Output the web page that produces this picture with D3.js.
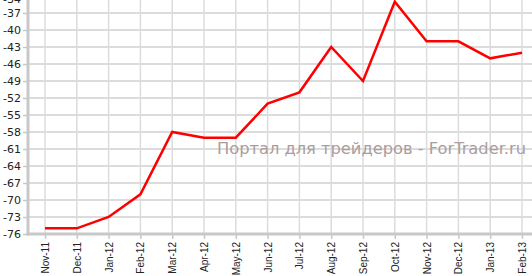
<!DOCTYPE html>
<html>
<head>
<meta charset="utf-8">
<script src="https://cdn.jsdelivr.net/npm/d3@7"></script>
<style>
  body { margin: 0; background: #fff; }
  .y.axis text { font-family: "DejaVu Sans", Verdana, sans-serif; font-size: 11px; fill: #222; }
  .x.axis text { font-family: "Liberation Sans", Arial, sans-serif; font-size: 10px; fill: #222; }
</style>
</head>
<body>
<svg class="chart"></svg>
<script>
var months = ["Nov-11", "Dec-11", "Jan-12", "Feb-12", "Mar-12", "Apr-12", "May-12", "Jun-12",
  "Jul-12", "Aug-12", "Sep-12", "Oct-12", "Nov-12", "Dec-12", "Jan-13", "Feb-13"];
var values = [-75, -75, -73, -69, -58, -59, -59, -53, -51, -43, -49, -35, -42, -42, -45, -44];
var yTicks = [-76, -73, -70, -67, -64, -61, -58, -55, -52, -49, -46, -43, -40, -37, -34];
var watermark = "Портал для трейдеров - ForTrader.ru";

(function () {
  var W = 532, H = 276;
  var svg = d3.select('.chart').attr('width', W).attr('height', H);

  // plot area, top is cut off like the original
  var left = 28, right = 522, top = -4, bottom = 234;

  var x = d3.scalePoint().domain(months).range([45, right]);
  var y = d3.scaleLinear().domain([-76, -34]).range([bottom, top]);

  // grid
  svg.append('g').selectAll('line')
    .data(yTicks)
    .enter().append('line')
    .attr('x1', left).attr('x2', W)
    .attr('y1', function (d) { return y(d); })
    .attr('y2', function (d) { return y(d); })
    .attr('stroke', '#d0d0d0').attr('stroke-width', 1.5);

  svg.append('g').selectAll('line')
    .data(months)
    .enter().append('line')
    .attr('x1', function (d) { return x(d); })
    .attr('x2', function (d) { return x(d); })
    .attr('y1', 0).attr('y2', bottom)
    .attr('stroke', '#dcdcdc').attr('stroke-width', 1.5);

  // watermark
  svg.append('text')
    .attr('x', 217).attr('y', 154)
    .attr('textLength', 309).attr('lengthAdjust', 'spacingAndGlyphs')
    .style('font-family', '"DejaVu Sans", Verdana, sans-serif')
    .style('font-size', '16px')
    .style('fill', '#ab9d9d')
    .text(watermark);

  // axes
  var yAxis = d3.axisLeft(y).tickValues(yTicks).tickSize(5).tickPadding(2)
    .tickFormat(function (d) { return String(d); });
  var gy = svg.append('g').attr('class', 'y axis')
    .attr('transform', 'translate(' + left + ',0)')
    .call(yAxis);
  gy.select('.domain').remove();
  gy.selectAll('.tick line').attr('stroke', '#c8c8c8').attr('stroke-width', 1.5);
  // top label sits below its clipped tick
  gy.selectAll('.tick text').filter(function (d) { return d === -34; }).attr('y', 3);

  var xAxis = d3.axisBottom(x).tickSize(5);
  var gx = svg.append('g').attr('class', 'x axis')
    .attr('transform', 'translate(0,' + bottom + ')')
    .call(xAxis);
  gx.select('.domain').remove();
  gx.selectAll('.tick line').attr('stroke', '#c8c8c8').attr('stroke-width', 1.5);
  gx.selectAll('.tick text')
    .attr('transform', 'rotate(-90)')
    .attr('text-anchor', 'end')
    .attr('x', -8).attr('y', 0).attr('dy', '0.35em');

  svg.append('line')
    .attr('x1', left).attr('x2', left).attr('y1', 0).attr('y2', bottom + 1.5)
    .attr('stroke', '#c8c8c8').attr('stroke-width', 3);
  svg.append('line')
    .attr('x1', left - 1.5).attr('x2', W).attr('y1', bottom).attr('y2', bottom)
    .attr('stroke', '#c8c8c8').attr('stroke-width', 3);

  // series
  var line = d3.line()
    .x(function (d, i) { return x(months[i]); })
    .y(function (d) { return y(d); });

  svg.append('path')
    .datum(values)
    .attr('d', line)
    .attr('fill', 'none')
    .attr('stroke', '#ff0000')
    .attr('stroke-width', 2.5)
    .attr('stroke-linejoin', 'miter');
})();
</script>
</body>
</html>
